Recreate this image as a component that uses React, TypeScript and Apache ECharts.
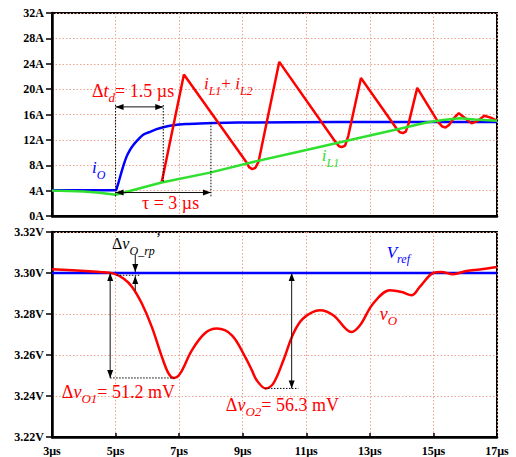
import React, { useEffect, useRef } from 'react';
import * as echarts from 'echarts';

// Shared time axis (µs)
const T_START = 3;
const T_END = 17;
const T_STEP = 2;

// Upper panel: currents (A)
const AMP_MIN = 0;
const AMP_MAX = 32;
const AMP_STEP = 4;

// Lower panel: output voltage (V)
const VOLT_MIN = 3.22;
const VOLT_MAX = 3.32;
const VOLT_STEP = 0.02;

// Load current i_O
const ioTime = [3, 5.0, 5.05, 5.1, 5.19, 5.27, 5.35, 5.45, 5.56, 5.7, 5.87, 6.05, 6.29, 6.5, 6.81, 7.2, 7.65, 8.5, 9.2, 12, 17];
const ioAmp = [4.05, 4.05, 4.6, 5.4, 7.0, 8.3, 9.4, 10.4, 11.2, 12.0, 12.8, 13.2, 13.7, 14.0, 14.3, 14.5, 14.6, 14.7, 14.75, 14.8, 14.8];

// Phase-1 inductor current i_L1
const iL1Time = [3, 4, 4.5, 5.0, 6.45, 7.97, 9.23, 11, 13, 13.94, 14.78, 15.3, 15.83, 16.3, 17];
const iL1Amp = [4.0, 3.85, 3.68, 3.35, 5.27, 6.84, 8.4, 10.4, 12.7, 13.75, 14.75, 15.15, 15.4, 15.2, 15.0];

// Total inductor current i_L1 + i_L2
const iSumTime = [6.45, 7.15, 9.1, 9.2, 9.3, 9.4, 9.5, 10.15, 11.93, 12.03, 12.12, 12.22, 12.32, 12.72, 13.85, 13.95, 14.04, 14.13, 14.22, 14.49, 15.15, 15.28, 15.38, 15.5, 15.62, 15.8, 16.0, 16.2, 16.4, 16.6, 16.8, 17];
const iSumAmp = [5.27, 22.3, 8.6, 7.7, 7.4, 7.6, 8.6, 24.3, 11.6, 11.0, 10.85, 11.1, 12.6, 21.75, 13.7, 13.2, 13.06, 13.3, 14.6, 20.2, 14.8, 14.1, 13.95, 14.4, 15.3, 16.2, 15.4, 14.6, 15.0, 15.8, 15.5, 15.05];

// Output voltage v_O
const voTime = [3, 4.05, 4.5, 4.94, 5.25, 5.52, 5.83, 6.14, 6.46, 6.67, 6.83, 7.03, 7.4, 7.82, 8.19, 8.66, 9.08, 9.29, 9.44, 9.72, 9.96, 10.28, 10.59, 10.9, 11.43, 11.85, 12.42, 12.69, 13.1, 13.63, 14.0, 14.31, 14.57, 14.99, 15.25, 15.62, 16.04, 16.46, 17];
const voVolt = [3.3018, 3.301, 3.3005, 3.2997, 3.2973, 3.2932, 3.285, 3.2737, 3.259, 3.2509, 3.2488, 3.2509, 3.2623, 3.2707, 3.2729, 3.2696, 3.259, 3.2525, 3.2477, 3.2437, 3.246, 3.2574, 3.2704, 3.2778, 3.2818, 3.2794, 3.2712, 3.2745, 3.285, 3.2916, 3.2907, 3.2891, 3.2932, 3.3, 3.3005, 3.2994, 3.301, 3.3017, 3.3029];

// Reference voltage and annotated quantities
const V_REF = 3.3;
const DV_O1 = 0.0512; // V
const DV_O2 = 0.0563; // V
const STEP_TIME = 5; // load step instant, µs
const DELAY_TD = 1.5; // µs
const TAU = 3; // µs

const FONT = '"Liberation Serif", "Times New Roman", serif';
const RED = '#ff0000';
const BLUE = '#0000ff';
const GREEN = '#2fe02f';
const GRID_COLOR = '#eda48e';

const pairs = (xs: number[], ys: number[]) => xs.map((t, i) => [t - T_START, ys[i]]);

function buildOption(): any {
  const tickLabel = { fontFamily: FONT, fontWeight: 'bold', fontSize: 12, color: '#000' };
  const splitLine = { show: true, lineStyle: { color: GRID_COLOR, type: [1.5, 2], width: 1 } };
  const axisLine = { show: true, onZero: false, lineStyle: { color: '#000', width: 2.5 } };
  const gridBox = { show: true, borderColor: '#000', borderWidth: 2, backgroundColor: 'transparent' };
  const lineSeries = (name: string, data: number[][], color: string, xi: number, smooth: any = false) => ({
    name,
    type: 'line',
    xAxisIndex: xi,
    yAxisIndex: xi,
    data,
    showSymbol: false,
    symbol: 'none',
    smooth,
    lineStyle: { color, width: 2.5 },
    silent: true,
  });
  return {
    animation: false,
    backgroundColor: '#ffffff',
    grid: [
      { left: 52, top: 13, width: 445, height: 203, ...gridBox },
      { left: 52, top: 232, width: 445, height: 205, ...gridBox },
    ],
    xAxis: [0, 1].map((gi) => ({
      type: 'value',
      gridIndex: gi,
      min: 0,
      max: T_END - T_START,
      interval: T_STEP,
      axisLine,
      axisTick: { show: gi === 1, inside: true, length: 4, lineStyle: { color: '#000', width: 1.5 } },
      axisLabel: {
        show: gi === 1,
        ...tickLabel,
        margin: 8,
        formatter: (v: number) => `${Math.round(v + T_START)}µs`,
      },
      splitLine,
    })),
    yAxis: [
      {
        type: 'value',
        gridIndex: 0,
        min: AMP_MIN,
        max: AMP_MAX,
        interval: AMP_STEP,
        axisLine,
        axisTick: { show: true, length: 6, lineStyle: { color: '#000', width: 1.5 } },
        axisLabel: { ...tickLabel, margin: 8, formatter: (v: number) => `${Math.round(v)}A` },
        splitLine,
      },
      {
        type: 'value',
        gridIndex: 1,
        min: VOLT_MIN,
        max: VOLT_MAX,
        interval: VOLT_STEP,
        axisLine,
        axisTick: { show: true, length: 6, lineStyle: { color: '#000', width: 1.5 } },
        axisLabel: { ...tickLabel, margin: 8, formatter: (v: number) => `${v.toFixed(2)}V` },
        splitLine,
      },
    ],
    series: [
      lineSeries('iO', pairs(ioTime, ioAmp), BLUE, 0, 0.3),
      lineSeries('iL1+iL2', pairs(iSumTime, iSumAmp), RED, 0),
      lineSeries('iL1', pairs(iL1Time, iL1Amp), GREEN, 0),
      lineSeries('Vref', [[0, V_REF], [T_END - T_START, V_REF]], BLUE, 1),
      lineSeries('vO', pairs(voTime, voVolt), RED, 1, 0.35),
    ],
  };
}

type Pt = [number, number];

function richFor(size: number, color: string) {
  const sub = Math.round(size * 0.72);
  const base = { fontFamily: FONT, color, fill: color };
  return {
    m: { ...base, fontSize: size, lineHeight: 26 },
    mi: { ...base, fontSize: size, fontStyle: 'italic', lineHeight: 26 },
    si: { ...base, fontSize: sub, fontStyle: 'italic', lineHeight: 15, verticalAlign: 'bottom' },
    sup: { ...base, fontSize: size, fontStyle: 'italic', lineHeight: 18, verticalAlign: 'top' },
  };
}

function label(at: Pt, parts: [string, string][], color: string, size = 18) {
  return {
    type: 'text',
    x: at[0],
    y: at[1],
    z: 110,
    silent: true,
    style: {
      text: parts.map(([k, s]) => `{${k}|${s}}`).join(''),
      rich: richFor(size, color),
      fill: color,
      fontFamily: FONT,
      fontSize: size,
      align: 'left',
      verticalAlign: 'middle',
    },
  };
}

function head(tip: Pt, from: Pt) {
  const dx = tip[0] - from[0];
  const dy = tip[1] - from[1];
  const len = Math.hypot(dx, dy) || 1;
  const ux = dx / len;
  const uy = dy / len;
  const L = 8;
  const W = 3;
  const bx = tip[0] - ux * L;
  const by = tip[1] - uy * L;
  return {
    type: 'polygon',
    z: 105,
    silent: true,
    shape: { points: [tip, [bx - uy * W, by + ux * W], [bx + uy * W, by - ux * W]] },
    style: { fill: '#000' },
  };
}

function arrow(a: Pt, b: Pt, both: boolean) {
  const items: any[] = [
    {
      type: 'line',
      z: 104,
      silent: true,
      shape: { x1: a[0], y1: a[1], x2: b[0], y2: b[1] },
      style: { stroke: '#111', lineWidth: 1 },
    },
    head(b, a),
  ];
  if (both) items.push(head(a, b));
  return items;
}

function dotted(a: Pt, b: Pt) {
  return {
    type: 'line',
    z: 103,
    silent: true,
    shape: { x1: a[0], y1: a[1], x2: b[0], y2: b[1] },
    style: { stroke: '#000', lineWidth: 1, lineDash: [1.5, 1.5] },
  };
}

function buildAnnotations(chart: echarts.ECharts) {
  const top = (t: number, a: number) => chart.convertToPixel({ gridIndex: 0 } as any, [t - T_START, a]) as unknown as Pt;
  const bot = (t: number, v: number) => chart.convertToPixel({ gridIndex: 1 } as any, [t - T_START, v]) as unknown as Pt;

  const tdEnd = STEP_TIME + DELAY_TD;
  const tauEnd = STEP_TIME + TAU;
  const vMin1 = V_REF - DV_O1;
  const vMin2 = V_REF - DV_O2;

  const g: any[] = [];

  // Δt_d and τ markers on the current panel
  g.push(dotted(top(STEP_TIME, 17.5), top(STEP_TIME, 3.05)));
  g.push(dotted(top(tdEnd, 17.5), top(tdEnd, 5.2)));
  g.push(dotted(top(tauEnd, 14.7), top(tauEnd, 3.05)));
  g.push(...arrow(top(STEP_TIME, 17.2), top(tdEnd, 17.2), true));
  g.push(...arrow(top(STEP_TIME, 3.7), top(tauEnd, 3.7), true));

  // Ripple marker near the reference
  g.push(dotted(bot(5.04, 3.2989), bot(5.76, 3.2989)));
  g.push(...arrow(bot(5.62, 3.3088), bot(5.62, 3.3005), false));
  g.push(...arrow(bot(5.62, 3.2915), bot(5.62, 3.2985), false));

  // Undershoot markers
  g.push(dotted(bot(4.83, vMin1), bot(6.88, vMin1)));
  g.push(...arrow(bot(4.83, V_REF), bot(4.83, vMin1), true));
  g.push(dotted(bot(9.7, vMin2), bot(10.75, vMin2)));
  g.push(...arrow(bot(10.54, V_REF), bot(10.54, vMin2), true));

  // Labels
  g.push(label(top(4.26, 19.75), [['m', 'Δ'], ['mi', 't'], ['si', 'd'], ['m', `= ${DELAY_TD} µs`]], RED));
  g.push(label(top(7.78, 20.85), [['mi', 'i'], ['si', 'L1'], ['m', '+ '], ['mi', 'i'], ['si', 'L2']], RED, 17));
  g.push(label(top(5.83, 2.05), [['m', 'τ'], ['m', ` = ${TAU} µs`]], RED));
  g.push(label(top(4.26, 7.6), [['mi', 'i'], ['si', 'O']], BLUE, 17));
  g.push(label(top(11.49, 9.5), [['mi', 'i'], ['si', 'L1']], GREEN, 17));

  g.push(label(bot(4.89, 3.3143), [['m', 'Δ'], ['mi', 'v'], ['si', 'O_rp'], ['sup', '’']], '#000', 16));
  g.push(label(bot(13.53, 3.3102), [['mi', 'V'], ['si', 'ref']], BLUE, 17));
  g.push(label(bot(13.31, 3.2799), [['mi', 'v'], ['si', 'O']], RED, 18));
  g.push(label(bot(3.31, 3.242), [['m', 'Δ'], ['mi', 'v'], ['si', 'O1'], ['m', `= ${(DV_O1 * 1000).toFixed(1)} mV`]], RED));
  g.push(label(bot(8.47, 3.2355), [['m', 'Δ'], ['mi', 'v'], ['si', 'O2'], ['m', `= ${(DV_O2 * 1000).toFixed(1)} mV`]], RED));

  return g;
}

export default function App() {
  const ref = useRef<HTMLDivElement>(null);
  useEffect(() => {
    const el = ref.current;
    if (!el) return;
    const chart = echarts.init(el, undefined, { renderer: 'svg' });
    chart.setOption(buildOption());
    chart.setOption({ graphic: buildAnnotations(chart) });
    return () => chart.dispose();
  }, []);
  return <div ref={ref} style={{ position: 'absolute', left: 0, top: 0, width: 516, height: 457 }} />;
}
